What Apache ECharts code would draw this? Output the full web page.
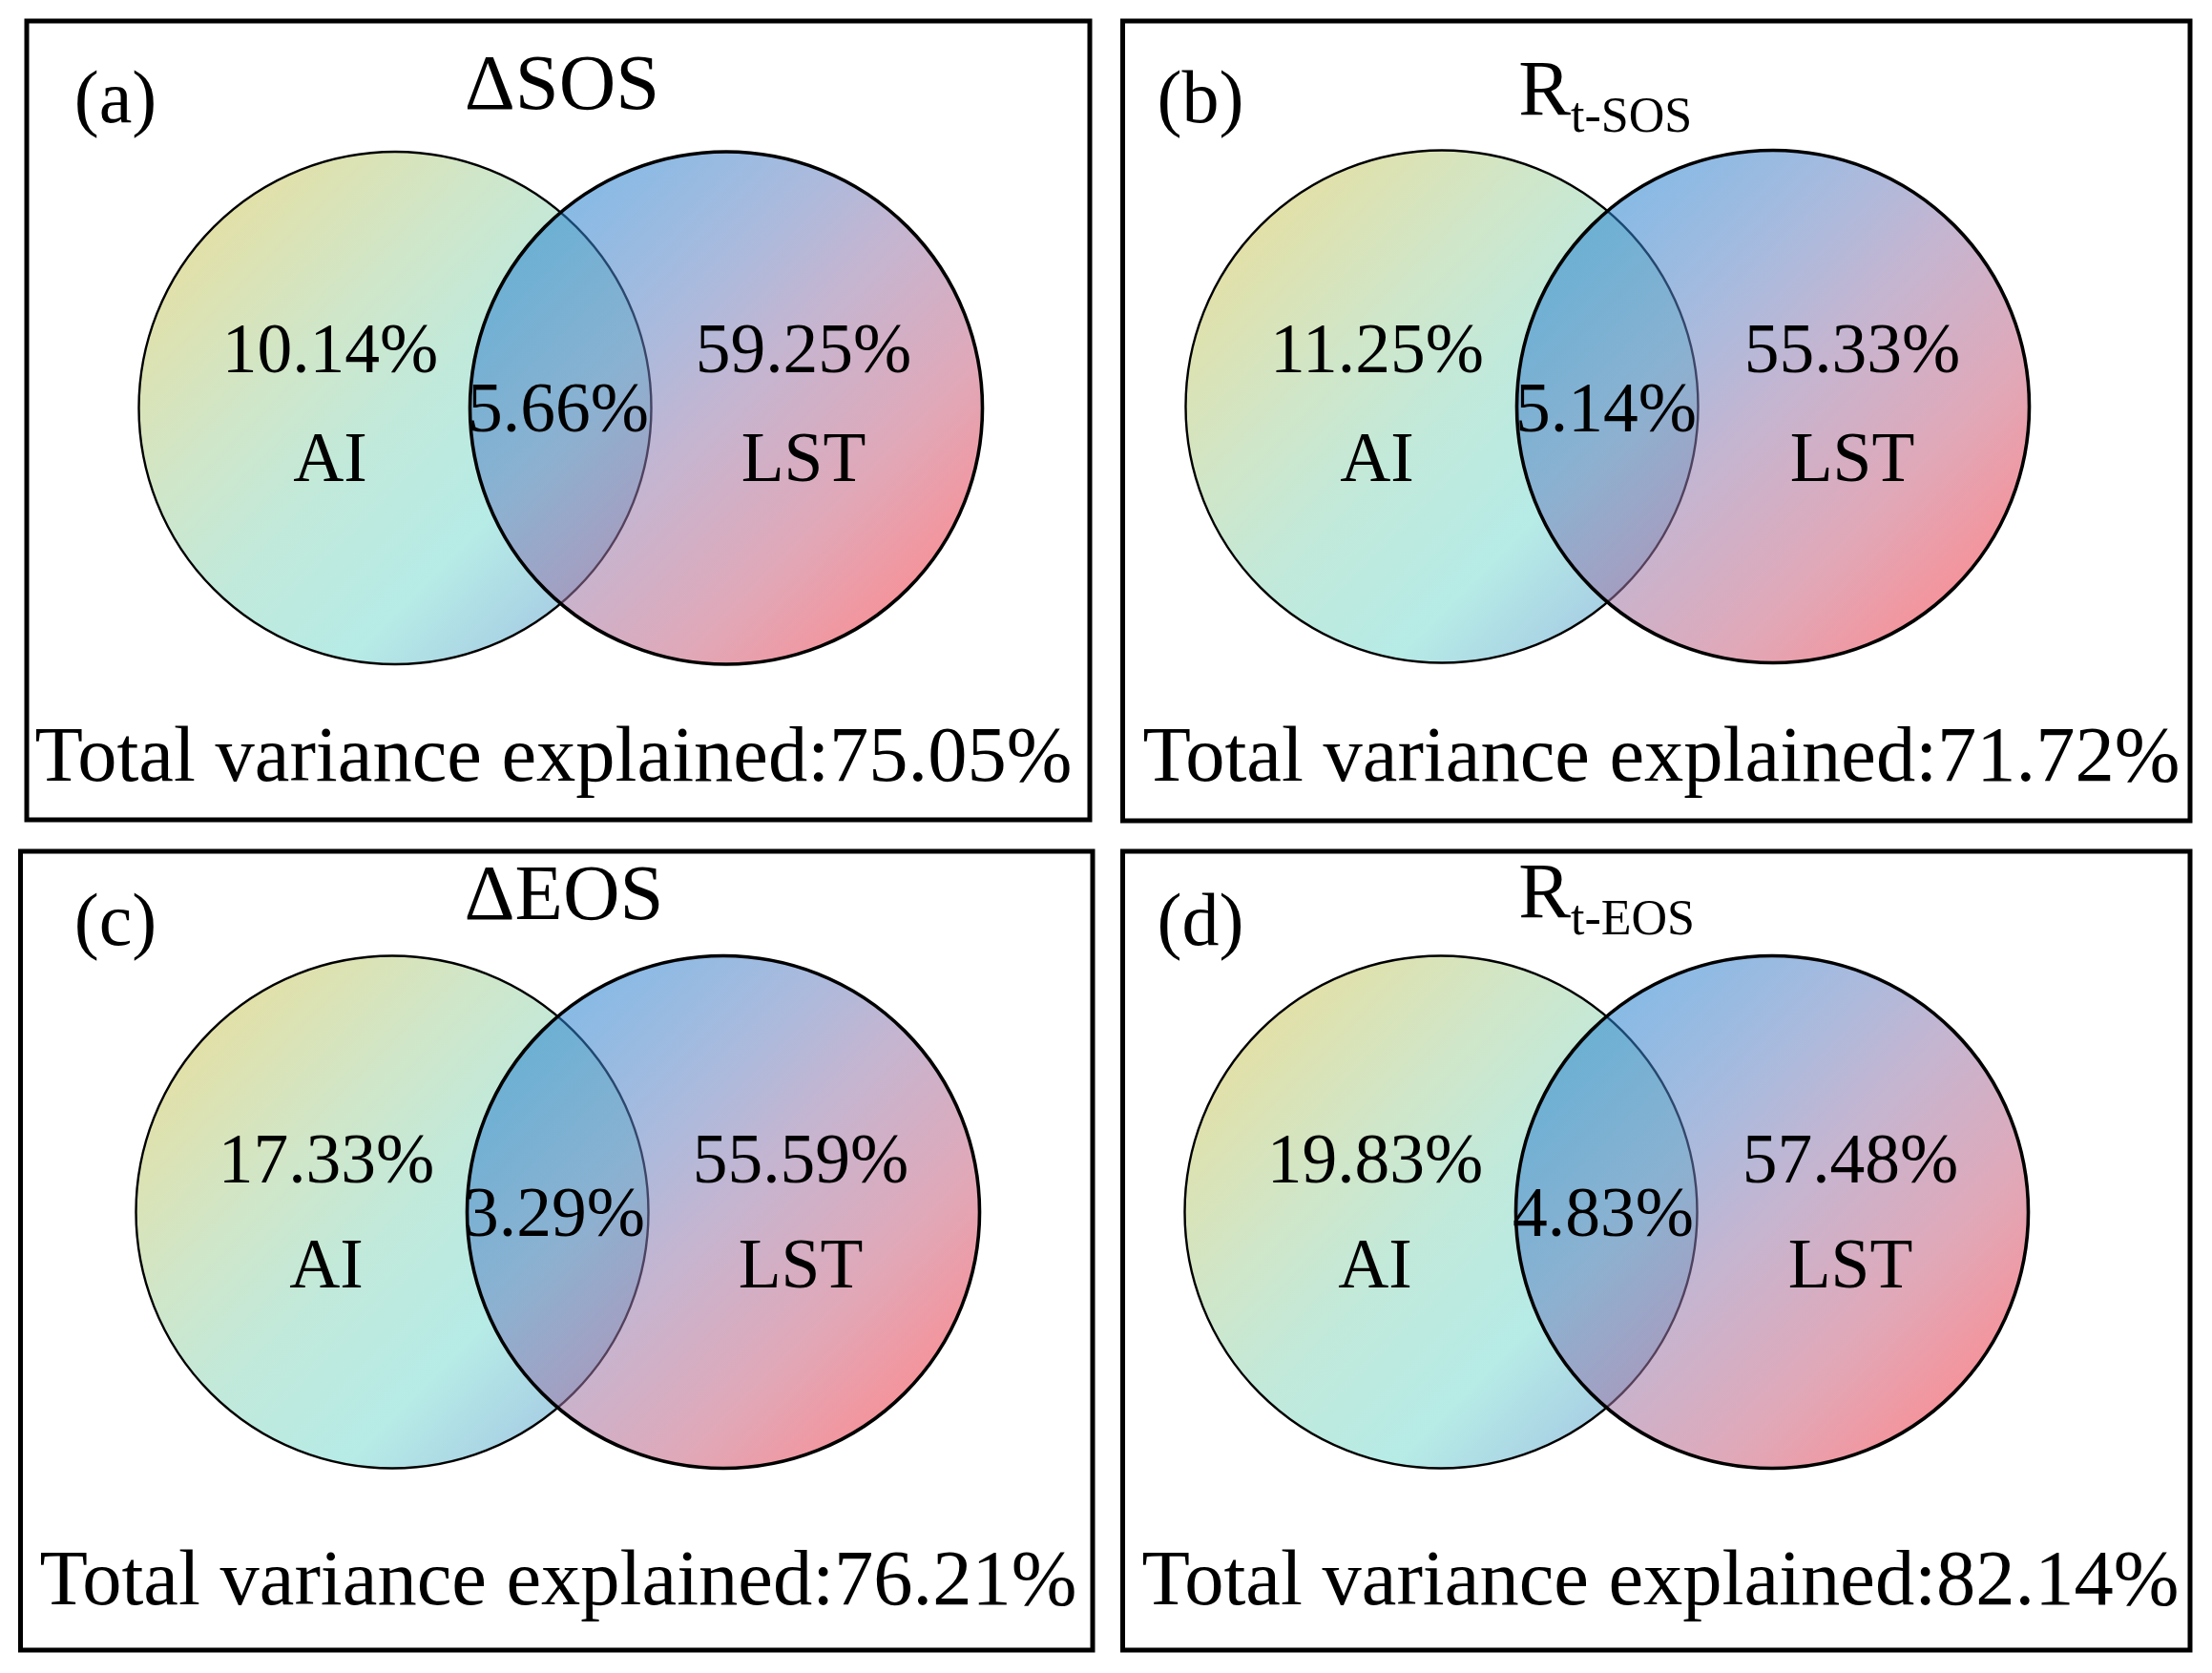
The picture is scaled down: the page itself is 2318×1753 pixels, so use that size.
<!DOCTYPE html>
<html><head><meta charset="utf-8">
<script src="https://cdn.jsdelivr.net/npm/echarts@6/dist/echarts.min.js"></script>
<style>html,body{margin:0;padding:0;background:#fff}#c{width:2318px;height:1753px}</style>
</head><body><div id="c"></div>
<script>
// ---------- data ----------
const panelTags = ['(a)', '(b)', '(c)', '(d)'];
const titleMain = ['ΔSOS', 'R', 'ΔEOS', 'R'];
const titleSub = ['', 't-SOS', '', 't-EOS'];
const setNames = ['AI', 'LST'];
const aiOnly = [10.14, 11.25, 17.33, 19.83];
const shared = [5.66, 5.14, 3.29, 4.83];
const lstOnly = [59.25, 55.33, 55.59, 57.48];
const totalExplained = [75.05, 71.72, 76.21, 82.14];

// ---------- layout (pixels) ----------
const layout = [
  {box:[28,22,1114,837], cl:[414,427.5], cr:[761,427.5], r:268.5, tag:[121,108], title:[589,92], lx:346, rx:842, ox:585, pctY:371, nameY:485, oy:433, tot:[580,796]},
  {box:[1176.5,22,1118.5,838], cl:[1511,426], cr:[1858,426], r:268.5, tag:[1258,108], title:[1646,98], lx:1443, rx:1941, ox:1683, pctY:371, nameY:485, oy:433, tot:[1741,796]},
  {box:[21.5,892,1123.5,837], cl:[411,1270], cr:[758,1270], r:268.5, tag:[121,970], title:[591,941], lx:342, rx:839, ox:581, pctY:1220, nameY:1330, oy:1276, tot:[585,1659]},
  {box:[1176.5,892,1118.5,837], cl:[1510,1270], cr:[1857,1270], r:268.5, tag:[1258,970], title:[1646,939], lx:1441, rx:1939, ox:1680, pctY:1220, nameY:1330, oy:1276, tot:[1740,1659]}
];
const FONT = "'Liberation Serif','Times New Roman',serif";

const leftFill = () => new echarts.graphic.LinearGradient(0, 0, 1, 1, [
  {offset:0, color:'#ecdb96'}, {offset:0.146, color:'#e2e0a8'}, {offset:0.35, color:'#d0e6c8'},
  {offset:0.5, color:'#c2e9da'}, {offset:0.7, color:'#b6ebe6'}, {offset:0.854, color:'#a8d0e4'},
  {offset:1, color:'#a2c6e4'}]);
const rightFill = () => new echarts.graphic.LinearGradient(0, 0, 1, 1, [
  {offset:0, color:'rgba(20,122,212,0.55)'}, {offset:0.146, color:'rgba(36,130,208,0.55)'},
  {offset:0.35, color:'rgba(98,130,194,0.55)'}, {offset:0.5, color:'rgba(150,120,170,0.55)'},
  {offset:0.7, color:'rgba(199,97,126,0.55)'}, {offset:0.854, color:'rgba(235,60,74,0.55)'},
  {offset:1, color:'rgba(245,48,62,0.55)'}]);

const fmt = v => v.toFixed(2) + '%';

const grids = [], xAxes = [], yAxes = [], series = [];
layout.forEach((L, i) => {
  const [bx, by, bw, bh] = L.box;
  grids.push({left: bx, top: by, width: bw, height: bh, show: true, borderColor: '#000', borderWidth: 5, backgroundColor: 'transparent'});
  xAxes.push({type: 'value', gridIndex: i, min: 0, max: bw, show: false});
  yAxes.push({type: 'value', gridIndex: i, min: 0, max: bh, inverse: true, show: false});
  const d = p => [p[0] - bx, p[1] - by];
  // circles
  const circ = [[...d(L.cl), L.r, 0], [...d(L.cr), L.r, 1]];
  series.push({
    type: 'custom', xAxisIndex: i, yAxisIndex: i, clip: false, silent: true,
    data: circ,
    renderItem: (params, api) => {
      const c = api.coord([api.value(0), api.value(1)]);
      const r = api.size([api.value(2), 0])[0];
      const right = api.value(3) === 1;
      return {type: 'circle', shape: {cx: c[0], cy: c[1], r: r},
        style: {fill: right ? rightFill() : leftFill(), stroke: '#000', lineWidth: right ? 3.6 : 2.4}};
    }
  });
  // texts
  const texts = [
    {p: L.tag, t: panelTags[i], s: 78, a: 'center'},
    {p: [L.lx, L.pctY], t: fmt(aiOnly[i]), s: 73.5, a: 'center'},
    {p: [L.lx, L.nameY], t: setNames[0], s: 73.5, a: 'center'},
    {p: [L.ox, L.oy], t: fmt(shared[i]), s: 73.5, a: 'center'},
    {p: [L.rx, L.pctY], t: fmt(lstOnly[i]), s: 73.5, a: 'center'},
    {p: [L.rx, L.nameY], t: setNames[1], s: 73.5, a: 'center'},
    {p: L.tot, t: 'Total variance explained:' + fmt(totalExplained[i]), s: 82.5, a: 'center'}
  ];
  if (titleSub[i]) {
    texts.push({p: L.title, t: titleMain[i], s: 82, a: 'right'});
    texts.push({p: [L.title[0], L.title[1] + 26], t: titleSub[i], s: 52, a: 'left'});
  } else {
    texts.push({p: L.title, t: titleMain[i], s: 82.5, a: 'center'});
  }
  series.push({
    type: 'custom', xAxisIndex: i, yAxisIndex: i, clip: false, silent: true,
    data: texts.map(o => d(o.p)),
    renderItem: (params, api) => {
      const o = texts[params.dataIndex];
      const c = api.coord([api.value(0), api.value(1)]);
      return {type: 'text', x: c[0], y: c[1],
        style: {text: o.t, fill: '#000', fontSize: o.s, fontFamily: FONT,
          align: o.a, verticalAlign: 'middle', textAlign: o.a, textVerticalAlign: 'middle'}};
    }
  });
});

const chart = echarts.init(document.getElementById('c'), null, {width: 2318, height: 1753});
chart.setOption({backgroundColor: '#fff', animation: false, grid: grids, xAxis: xAxes, yAxis: yAxes, series: series});
</script></body></html>
